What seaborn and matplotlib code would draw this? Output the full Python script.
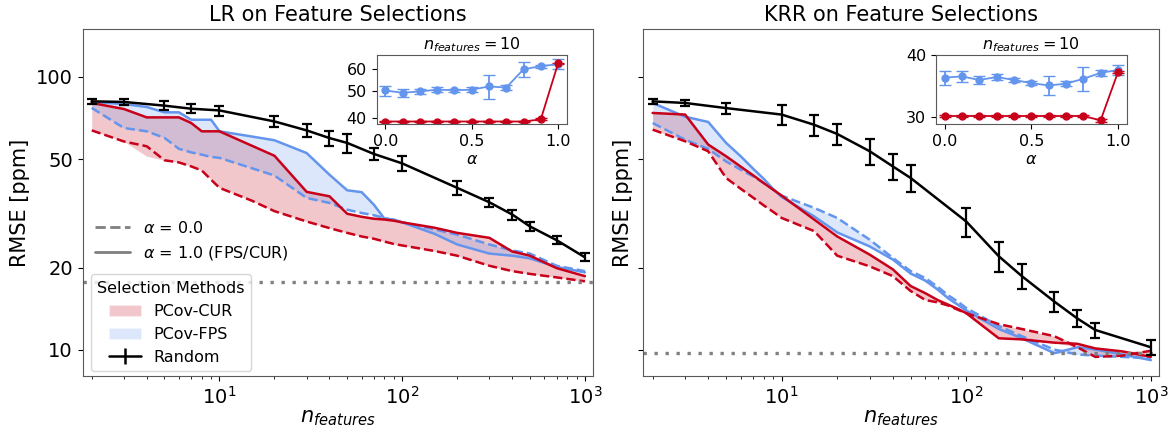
import numpy as np
import pandas as pd
import matplotlib
matplotlib.use('Agg')
import matplotlib.pyplot as plt
import seaborn as sns
from matplotlib.patches import Patch
from matplotlib.lines import Line2D
from matplotlib.ticker import NullLocator

sns.set_style('ticks', {'axes.edgecolor': '0.35', 'xtick.color': 'black', 'ytick.color': 'black',
                        'text.color': 'black', 'axes.labelcolor': 'black'})
plt.rcParams['font.family'] = ['DejaVu Sans']
plt.rcParams['mathtext.fontset'] = 'dejavusans'

red = '#c8001a'
blue = '#6495ed'

# number of selected features (PCov-CUR / PCov-FPS curves)
x_sel = [2, 3, 4, 5, 6, 7, 8, 9, 10, 15, 20, 30, 40, 50, 60, 70, 80, 90, 100,
         150, 200, 300, 400, 500, 700, 1000]

# LR panel
lr_cur_a1 = [80.3, 76.3, 71.1, 71.1, 71.1, 67.8, 63.2, 63.2, 63.2, 56.0, 51.4, 37.9, 36.5,
             31.5, 30.7, 30.2, 30.0, 29.7, 29.3, 28.0, 26.8, 25.7, 22.9, 22.1, 19.9, 18.6]
lr_cur_a0 = [63.7, 58.0, 55.7, 49.5, 48.6, 47.0, 45.4, 42.0, 39.2, 35.2, 32.2, 29.5, 27.9,
             26.8, 26.0, 25.5, 24.9, 24.4, 24.1, 23.0, 22.1, 20.3, 19.4, 18.95, 18.4, 17.8]
lr_cur_lo = [63.7, 58.0, 51.2, 49.5, 48.6, 47.0, 45.4, 42.0, 39.2, 35.2, 32.2, 29.5, 27.9,
             26.8, 26.0, 25.5, 24.9, 24.4, 24.1, 23.0, 22.1, 20.3, 19.4, 18.95, 18.4, 17.8]
lr_fps_a1 = [81.0, 79.6, 77.6, 74.2, 74.2, 69.7, 69.7, 69.7, 63.2, 60.5, 58.6, 52.6, 43.8,
             38.4, 37.8, 34.0, 30.2, 30.0, 29.3, 26.6, 24.3, 22.5, 22.1, 21.6, 20.1, 19.2]
lr_fps_a0 = [77.0, 65.0, 63.2, 59.8, 54.5, 52.9, 51.9, 50.9, 50.5, 46.3, 43.5, 36.0, 34.5,
             32.6, 31.7, 31.1, 30.4, 29.8, 29.3, 27.6, 26.4, 24.3, 23.1, 22.5, 20.3, 19.4]
lr_rand_x = [2, 3, 5, 7, 10, 20, 30, 40, 50, 70, 100, 200, 300, 400, 500, 700, 1000]
lr_rand = [81.4, 81.0, 78.5, 76.5, 75.4, 68.7, 63.7, 59.7, 57.3, 52.2, 48.2, 39.2, 34.7,
           31.3, 28.3, 25.2, 21.8]
lr_rand_err = [1.85, 1.85, 2.85, 2.8, 3.2, 3.3, 3.6, 3.7, 4.5, 2.65, 3.0, 2.2, 1.3,
               1.3, 1.0, 0.85, 0.74]
lr_baseline = 17.7

# KRR panel
krr_cur_a1 = [73.8, 72.8, 56.5, 51.2, 46.9, 43.6, 40.8, 38.6, 36.7, 30.0, 26.0, 22.3, 19.7,
              17.1, 16.1, 15.2, 14.6, 14.1, 13.6, 11.0, 10.9, 10.6, 10.5, 10.1, 9.85, 9.4]
krr_cur_a0 = [64.1, 58.1, 53.4, 42.6, 38.9, 36.1, 33.8, 32.0, 30.4, 27.2, 22.1, 20.2, 18.6,
              16.4, 15.2, 14.9, 14.5, 14.0, 13.6, 12.4, 11.9, 11.2, 10.2, 9.4, 9.5, 9.9]
krr_fps_a1 = [80.3, 71.5, 68.4, 57.3, 51.2, 46.1, 42.3, 38.8, 36.3, 30.8, 26.9, 23.9, 21.4,
              19.0, 17.9, 16.6, 15.4, 14.6, 13.9, 11.9, 11.0, 9.7, 10.2, 10.0, 9.6, 9.15]
krr_fps_a0 = [67.8, 58.9, 54.5, 49.0, 45.7, 43.2, 40.8, 38.6, 36.7, 33.1, 30.4, 25.3, 21.7,
              19.4, 18.3, 17.0, 15.8, 15.0, 14.2, 12.2, 11.2, 10.0, 9.6, 9.5, 9.4, 9.3]
krr_rand_x = [2, 3, 5, 10, 15, 20, 30, 40, 50, 100, 150, 200, 300, 400, 500, 1000]
krr_rand = [81.4, 80.3, 76.9, 72.8, 66.8, 61.8, 53.4, 47.0, 42.6, 29.5, 22.0, 18.6, 15.0,
            13.0, 11.8, 10.2]
krr_rand_err = [1.85, 2.2, 3.7, 6.1, 6.0, 5.6, 6.0, 5.0, 4.8, 3.7, 2.8, 1.95, 1.27,
                0.92, 0.74, 0.64]
krr_baseline = 9.75

# insets: n_features = 10, RMSE vs alpha
alphas = [0.0, 0.1, 0.2, 0.3, 0.4, 0.5, 0.6, 0.7, 0.8, 0.9, 1.0]
lr_in_fps = [50.4, 49.4, 50.0, 50.7, 50.5, 50.7, 52.1, 51.6, 60.1, 61.7, 62.7]
lr_in_fps_err = [2.1, 1.7, 1.0, 1.0, 0.7, 1.0, 5.1, 1.0, 3.7, 0.8, 2.6]
lr_in_cur = [38.9, 38.9, 38.9, 38.9, 38.9, 38.9, 38.9, 38.9, 38.9, 39.6, 63.1]
lr_in_cur_err = [0.2, 0.2, 0.2, 0.2, 0.2, 0.2, 0.2, 0.2, 0.2, 0.3, 0.3]
krr_in_fps = [36.0, 36.2, 35.6, 36.1, 35.6, 35.1, 34.7, 35.0, 35.8, 36.8, 37.3]
krr_in_fps_err = [1.2, 1.0, 0.7, 0.45, 0.4, 0.4, 1.5, 0.4, 2.0, 0.45, 0.85]
krr_in_cur = [30.1, 30.1, 30.1, 30.1, 30.1, 30.1, 30.1, 30.1, 30.1, 29.5, 36.9]
krr_in_cur_err = [0.1, 0.1, 0.1, 0.1, 0.1, 0.1, 0.1, 0.1, 0.1, 0.2, 0.2]

W, H = 1168, 430
fig = plt.figure(figsize=(W / 100, H / 100), dpi=100)
ax1 = fig.add_axes([82.5 / W, 54 / H, 510.5 / W, 347 / H])
ax2 = fig.add_axes([643.3 / W, 54 / H, 515.7 / W, 347 / H], sharey=ax1)


def draw_panel(ax, cur_a1, cur_a0, fps_a1, fps_a0, rx, ry, rerr, base, title, cur_lo=None):
    x = np.array(x_sel)
    lo = np.minimum(cur_a0, cur_a1) if cur_lo is None else np.minimum(cur_lo, cur_a1)
    ax.fill_between(x, lo, np.maximum(cur_a0, cur_a1), color=red, alpha=0.22, lw=0)
    ax.fill_between(x, np.minimum(fps_a0, fps_a1), np.maximum(fps_a0, fps_a1),
                    color=blue, alpha=0.22, lw=0)
    for vals, col, ls in [(fps_a0, blue, '--'), (fps_a1, blue, '-'),
                          (cur_a0, red, '--'), (cur_a1, red, '-')]:
        sns.lineplot(x=x, y=vals, ax=ax, color=col, linestyle=ls, lw=1.8,
                     estimator=None, sort=False)
    ax.errorbar(rx, ry, yerr=rerr, color='k', lw=1.8, elinewidth=1.6,
                capsize=3.5, capthick=1.6, zorder=5)
    ax.axhline(base, color='0.5', lw=2.4, ls=(0, (1, 2.3)))
    ax.set_xscale('log')
    ax.set_yscale('log')
    ax.set_xlim(1.78, 1107)
    ax.set_ylim(8.0, 150)
    ax.set_yticks([10, 20, 50, 100])
    ax.set_yticklabels(['10', '20', '50', '100'])
    ax.yaxis.set_minor_locator(NullLocator())
    ax.tick_params(labelsize=14)
    ax.set_title(title, fontsize=15)
    ax.set_xlabel(r'$n_{features}$', fontsize=15, labelpad=0)
    ax.set_ylabel('RMSE [ppm]', fontsize=15)


draw_panel(ax1, lr_cur_a1, lr_cur_a0, lr_fps_a1, lr_fps_a0, lr_rand_x, lr_rand,
           lr_rand_err, lr_baseline, 'LR on Feature Selections', cur_lo=lr_cur_lo)
draw_panel(ax2, krr_cur_a1, krr_cur_a0, krr_fps_a1, krr_fps_a0, krr_rand_x, krr_rand,
           krr_rand_err, krr_baseline, 'KRR on Feature Selections')
ax2.tick_params(axis='y', labelleft=False)

# legends on the LR panel
style_handles = [Line2D([], [], color='0.5', ls='--', lw=2),
                 Line2D([], [], color='0.5', ls='-', lw=2)]
leg1 = ax1.legend(style_handles, [r'$\alpha$ = 0.0', r'$\alpha$ = 1.0 (FPS/CUR)'],
                  loc='lower left', bbox_to_anchor=(0.012, 0.31), frameon=False,
                  fontsize=11.5, handlelength=2.2, borderaxespad=0)
ax1.add_artist(leg1)
rand_handle = ax1.errorbar([], [], yerr=[], color='k', lw=1.8, capsize=3.5)
method_handles = [Patch(facecolor=red, alpha=0.22), Patch(facecolor=blue, alpha=0.22), rand_handle]
ax1.legend(method_handles, ['PCov-CUR', 'PCov-FPS', 'Random'], title='Selection Methods',
           loc='lower left', bbox_to_anchor=(0.016, 0.014), borderaxespad=0,
           fontsize=11.5, title_fontsize=11.5)


def draw_inset(rect, fps, fps_err, cur, cur_err, ylim, yticks):
    ax = fig.add_axes(rect)
    ax.errorbar(alphas, fps, yerr=fps_err, color=blue, marker='o', ms=5, lw=1.3,
                capsize=4.5, elinewidth=1.3)
    ax.errorbar(alphas, cur, yerr=cur_err, color=red, marker='o', ms=5, lw=1.3,
                capsize=4.5, elinewidth=1.3)
    ax.set_yscale('log')
    ax.set_ylim(*ylim)
    ax.set_yticks(yticks)
    ax.set_yticklabels([str(t) for t in yticks])
    ax.yaxis.set_minor_locator(NullLocator())
    ax.set_xticks([0.0, 0.5, 1.0])
    ax.set_xticklabels(['0.0', '0.5', '1.0'])
    ax.tick_params(labelsize=11.5)
    ax.set_xlabel(r'$\alpha$', fontsize=11.5, labelpad=2)
    ax.set_title(r'$n_{features} = 10$', fontsize=11.5, pad=4)
    return ax


draw_inset([376.7 / W, 1 - 124 / H, 190 / W, 69 / H], lr_in_fps, lr_in_fps_err,
           lr_in_cur, lr_in_cur_err, (38.1, 67.7), [40, 50, 60])
draw_inset([936 / W, 1 - 124 / H, 190.6 / W, 69 / H], krr_in_fps, krr_in_fps_err,
           krr_in_cur, krr_in_cur_err, (29.0, 40.0), [30, 40])

fig.savefig('out.png', dpi=100)
